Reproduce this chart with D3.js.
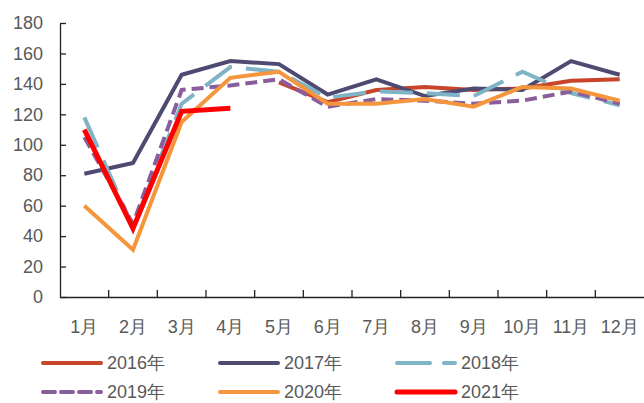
<!DOCTYPE html>
<html>
<head>
<meta charset="utf-8">
<script src="https://cdn.jsdelivr.net/npm/d3@7"></script>
<style>
  body { margin: 0; background: #fff; }
  text { font-family: Arial, "Liberation Sans", sans-serif; fill: #595959; }
</style>
</head>
<body>
<div class="chart"></div>
<script>
// Month labels on the x axis
var months = ['1月', '2月', '3月', '4月', '5月', '6月', '7月', '8月', '9月', '10月', '11月', '12月'];
var yTicks = [0, 20, 40, 60, 80, 100, 120, 140, 160, 180];

// Values per year (null = no point)
var v2016 = [null, null, null, null, 141, 128, 136, 138, 136, 137, 142, 143];
var v2017 = [81, 88, 146, 155, 153, 133, 143, 132, 137, 136, 155, 146];
var v2018 = [118, 46, 127, 151, 148, 131, 135, 134, 132, 148, 134, 126];
var v2019 = [105, 48, 136, 139, 143, 125, 130, 129, 127, 129, 135, 127];
var v2020 = [60, 31, 115, 144, 148, 127, 127, 130, 125, 138, 137, 129];
var v2021 = [110, 45, 122, 124, null, null, null, null, null, null, null, null];

var seriesNames = ['2016年', '2017年', '2018年', '2019年', '2020年', '2021年'];
var seriesValues = [v2016, v2017, v2018, v2019, v2020, v2021];
var colors = ['#c8452b', '#4e4a72', '#7fb3c6', '#8a5d9c', '#f5963d', '#ff0000'];
var dashes = [null, null, '33,14', '12,6', null, null];
var widths = [4, 4, 4, 4, 4, 5];

var width = 644;
var height = 403;
var padding = {left: 60, right: 0, top: 23, bottom: 106};

var svg = d3.select(".chart")
    .append("svg")
    .attr("width", width)
    .attr("height", height);

var xScale = d3.scaleBand()
    .domain(months)
    .range([padding.left, width - padding.right]);

var yScale = d3.scaleLinear()
    .domain([0, 180])
    .range([height - padding.bottom, padding.top]);

// y axis, ticks pointing inside
var yAxis = d3.axisLeft(yScale)
    .tickValues(yTicks)
    .tickSizeInner(-6)
    .tickSizeOuter(0)
    .tickPadding(17);

svg.append("g")
    .attr("class", "axis")
    .attr("transform", "translate(" + padding.left + ",0)")
    .call(yAxis);

// x axis labels
var xAxis = d3.axisBottom(xScale)
    .tickSize(0)
    .tickPadding(23);

svg.append("g")
    .attr("class", "axis")
    .attr("transform", "translate(0," + (height - padding.bottom) + ")")
    .call(xAxis);

svg.selectAll(".axis path, .axis line").attr("stroke", "#222").attr("stroke-width", 1.3);
svg.selectAll(".axis text").style("font-size", "18px").attr("fill", "#595959");

// x ticks at the boundaries between months, pointing up
svg.append("g")
    .selectAll("line")
    .data(months.slice(1))
    .enter()
    .append("line")
    .attr("x1", function(d){ return xScale(d); })
    .attr("x2", function(d){ return xScale(d); })
    .attr("y1", height - padding.bottom)
    .attr("y2", height - padding.bottom - 7)
    .attr("stroke", "#222")
    .attr("stroke-width", 1.3);

var line = d3.line()
    .defined(function(d){ return d != null; })
    .x(function(d, i){ return xScale(months[i]) + xScale.bandwidth() / 2; })
    .y(function(d){ return yScale(d); });

svg.append("g")
    .selectAll("path")
    .data(seriesValues)
    .enter()
    .append("path")
    .attr("d", line)
    .attr("fill", "none")
    .attr("stroke", function(d, i){ return colors[i]; })
    .attr("stroke-width", function(d, i){ return widths[i]; })
    .attr("stroke-dasharray", function(d, i){ return dashes[i]; })
    .attr("stroke-linejoin", "miter");

// legend, 3 columns x 2 rows
var legend = svg.append("g")
    .selectAll("g")
    .data(seriesNames)
    .enter()
    .append("g")
    .attr("transform", function(d, i){
        return "translate(" + (43 + (i % 3) * 177) + "," + (363 + Math.floor(i / 3) * 29) + ")";
    });

legend.append("line")
    .attr("x1", 0)
    .attr("x2", 58)
    .attr("stroke", function(d, i){ return colors[i]; })
    .attr("stroke-width", function(d, i){ return widths[i]; })
    .attr("stroke-dasharray", function(d, i){ return dashes[i]; })
    .attr("stroke-linecap", "round");

legend.append("text")
    .attr("x", 64)
    .attr("dy", "0.36em")
    .style("font-size", "18px")
    .text(function(d){ return d; });
</script>
</body>
</html>
